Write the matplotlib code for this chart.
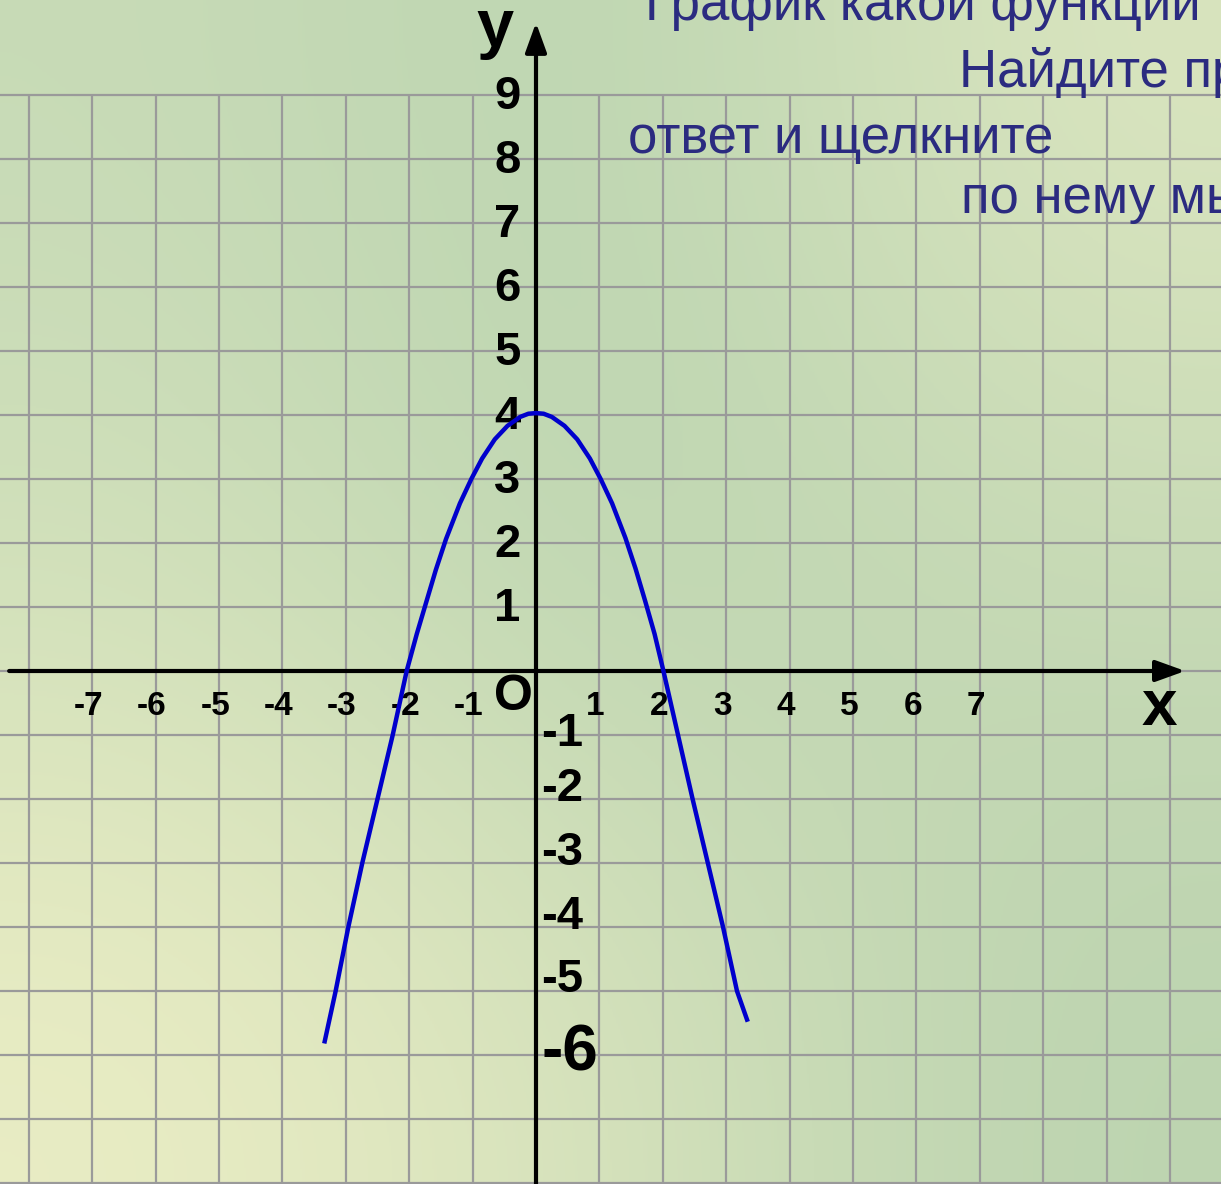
import numpy as np
import matplotlib.pyplot as plt
from matplotlib.colors import to_rgb

# curve points (x, y in grid units)
curve_x = [-3.34, -3.16, -2.96, -2.74, -2.5, -2.26, -2.04, -1.88, -1.73, -1.58, -1.42,
           -1.2, -1.02, -0.85, -0.65, -0.45, -0.25, -0.12, 0.0, 0.12, 0.25, 0.45,
           0.65, 0.85, 1.02, 1.2, 1.41, 1.57, 1.72, 1.87, 2.01, 2.24, 2.47, 2.71,
           2.95, 3.17, 3.34]
curve_y = [-5.82, -5.0, -4.0, -3.0, -2.0, -1.0, 0.0, 0.58, 1.08, 1.58, 2.06,
           2.62, 3.0, 3.32, 3.62, 3.83, 3.97, 4.02, 4.03, 4.02, 3.97, 3.83,
           3.62, 3.32, 3.0, 2.62, 2.08, 1.6, 1.1, 0.58, 0.0, -1.0, -2.0, -3.0,
           -4.0, -5.0, -5.48]

x_ticks = [-7, -6, -5, -4, -3, -2, -1, 1, 2, 3, 4, 5, 6, 7]
y_ticks_pos = [1, 2, 3, 4, 5, 6, 7, 8, 9]
y_ticks_neg = [-1, -2, -3, -4, -5, -6]

text_lines = ["График какой функции",
              "Найдите правильный",
              "ответ и щелкните",
              "по нему мышкой"]

W, H = 1221, 1184
ox, oy = 536, 671          # origin in pixels
ux, uy = 63.4, 64.0        # pixels per unit
xlim = (-ox / ux, (W - ox) / ux)
ylim = (-(H - oy) / uy, oy / uy)

plt.rcParams['font.family'] = ['Liberation Sans', 'DejaVu Sans']

fig = plt.figure(figsize=(W / 100, H / 100), dpi=100)
ax = fig.add_axes([0, 0, 1, 1])
ax.set_axis_off()

# background gradient
bg_cols = [["#c8dbb7", "#bad4b0", "#dae5bf"],
           ["#d2e1bb", "#bad4b0", "#c6d9b5"],
           ["#eaedc4", "#d6e2bc", "#bcd4b0"]]
bg = np.array([[to_rgb(c) for c in row] for row in bg_cols])
ax.imshow(bg, extent=[xlim[0], xlim[1], ylim[0], ylim[1]], aspect='auto',
          interpolation='bicubic', zorder=0, origin='upper')

# grid
grid_c = "#9a9a9a"
for gx in range(-8, 11):
    ax.vlines(gx, ylim[0], 9, color=grid_c, lw=1.6, zorder=1)
for gy in range(-8, 10):
    ax.hlines(gy, xlim[0], xlim[1], color=grid_c, lw=1.6, zorder=1)

# axes with arrows
arrow = dict(arrowstyle='-|>,head_length=18,head_width=6.5', mutation_scale=1,
             lw=3, color='black', shrinkA=0, shrinkB=0)
ax.annotate('', xy=(10.24, 0), xytext=(-8.31, 0), arrowprops=arrow, zorder=3)
ax.annotate('', xy=(0, 10.13), xytext=(0, ylim[0]), arrowprops=arrow, zorder=3)

# tick labels
for v in x_ticks:
    ax.text(v - 0.06, -0.55, str(v), fontsize=24, fontweight='bold',
            ha='center', va='center', zorder=4)
for v in y_ticks_pos:
    ax.text(-0.45, v - 0.03, str(v), fontsize=34, fontweight='bold',
            ha='center', va='center', zorder=4)
neg_shift = {-1: 0.02, -2: 0.16, -3: 0.16, -4: 0.16, -5: 0.17, -6: 0.02}
for v in y_ticks_neg:
    fs = 46 if v == -6 else 34
    ax.text(0.08, v + neg_shift[v], str(v), fontsize=fs, fontweight='bold',
            ha='left', va='center', zorder=4)
ax.text(-0.36, -0.4, "O", fontsize=36, fontweight='bold', ha='center', va='center', zorder=4)
ax.text(-0.65, 9.77, "y", fontsize=48, fontweight='bold', ha='center', va='baseline', zorder=4)
ax.text(9.83, -0.84, "x", fontsize=46, fontweight='bold', ha='center', va='baseline', zorder=4)

# parabola
ax.plot(curve_x, curve_y, color='#0000cc', lw=3.2, solid_joinstyle='round',
        solid_capstyle='butt', zorder=5)

# question text
tc = "#2b2b80"
ax.text(1.72, 10.17, text_lines[0], fontsize=38, color=tc, va='baseline', zorder=4)
ax.text(6.67, 9.13, text_lines[1], fontsize=38, color=tc, va='baseline', zorder=4)
ax.text(1.45, 8.1, text_lines[2], fontsize=38, color=tc, va='baseline', zorder=4)
ax.text(6.7, 7.16, text_lines[3], fontsize=38, color=tc, va='baseline', zorder=4)

ax.set_xlim(*xlim)
ax.set_ylim(*ylim)
fig.savefig("out.png", dpi=100)
